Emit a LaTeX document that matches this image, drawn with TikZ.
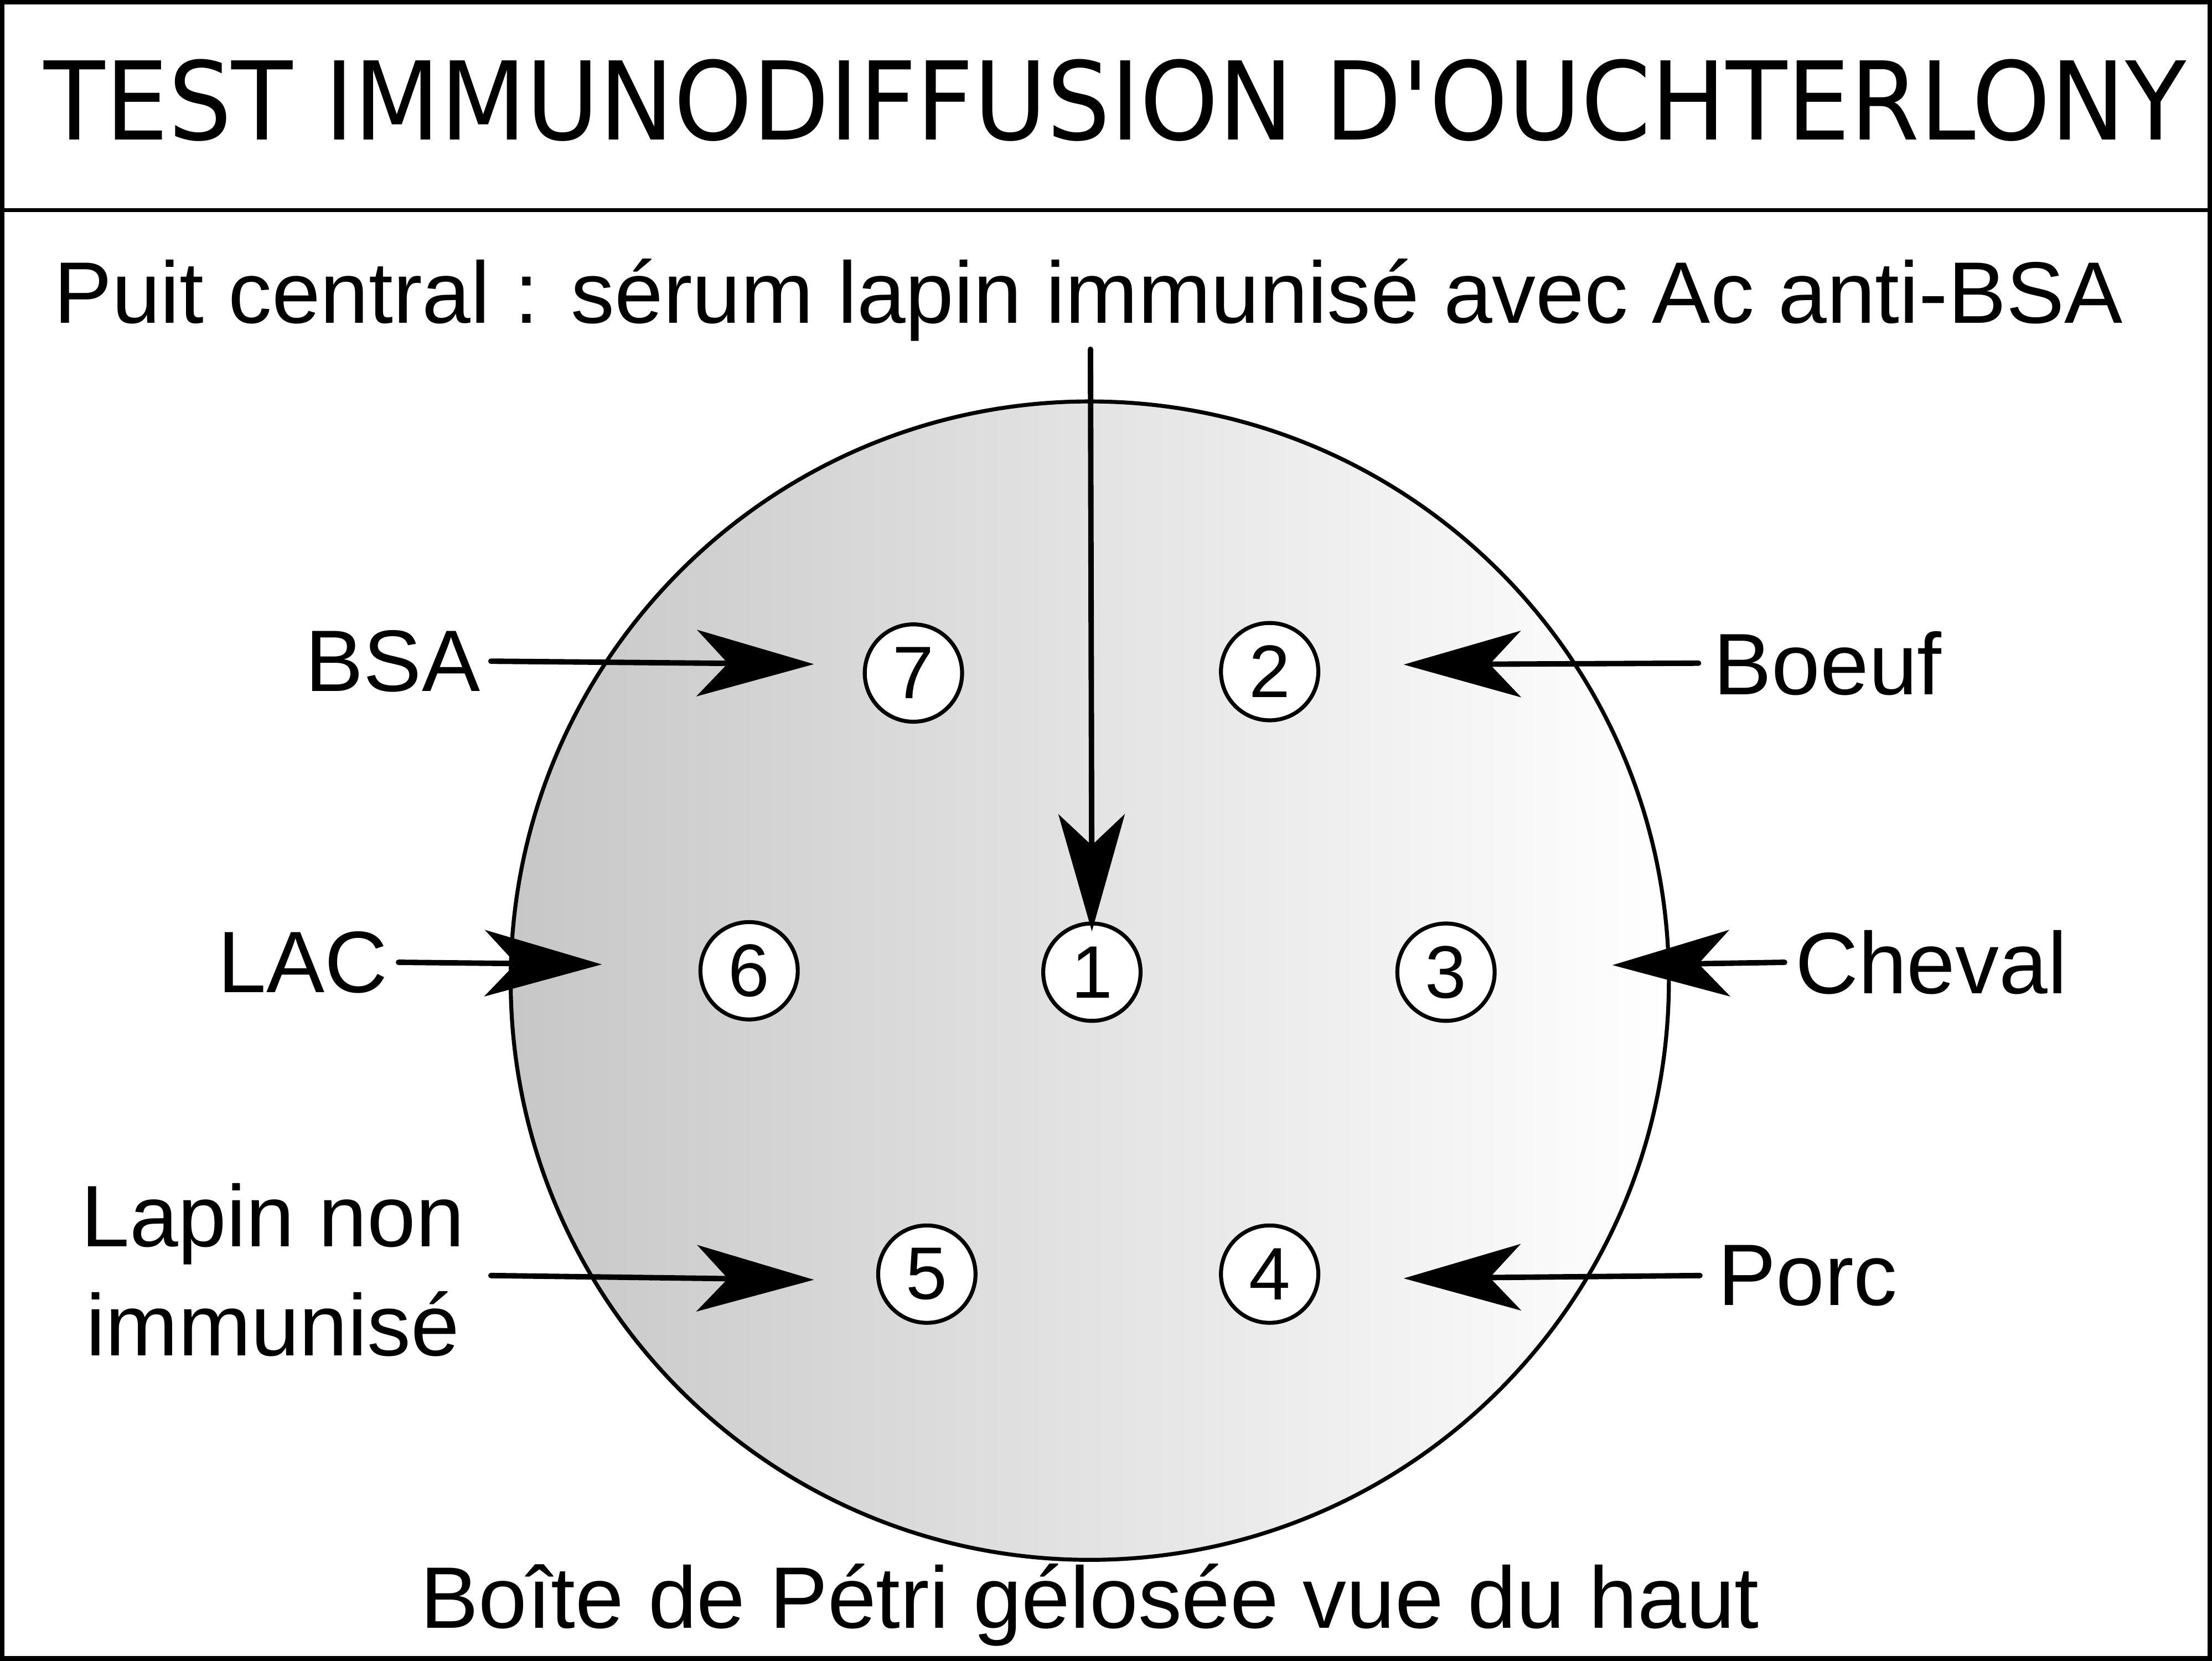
\documentclass[tikz,border=0pt]{standalone}
\usepackage{fontspec}
\setmainfont{Liberation Sans}
\newfontfamily\titlefont[FakeStretch=0.92]{DejaVu Sans}
\usepackage{tikz}
\usetikzlibrary{arrows.meta,positioning}

\begin{document}
\begin{tikzpicture}[x=0.1mm, y=-0.1mm,
    border/.style={draw, line width=0.9pt},
    sidetext/.style={font=\fontsize{17.6}{22}\selectfont, inner sep=0.7mm, align=center},
    well/.style={circle, draw, line width=0.8pt, fill=white, minimum size=6.9mm, inner sep=0pt, font=\fontsize{15}{18}\selectfont},
    arrow/.style={line width=1.1pt, line cap=round, -{Stealth[length=8.3mm, width=4.7mm, inset=2.2mm]}}
]
\useasboundingbox (0,0) rectangle (1568,1177);

% Frame and title
\draw[border] (1.6,1.6) rectangle (1566.4,1175.4);
\draw[line width=0.8pt] (0,149) -- (1568,149);
\node[font=\titlefont\fontsize{21.9}{26}\selectfont, inner sep=0pt] (title) at (790.5,71) {TEST IMMUNODIFFUSION D'OUCHTERLONY};
\node[sidetext, anchor=base, inner sep=0.5mm] (sub) at (771.5,229) {Puit central : sérum lapin immunisé avec Ac anti-BSA};

% Petri dish
\node[circle, draw, line width=0.8pt, minimum size=82.1mm, inner sep=0pt,
      left color=black!22, right color=white] (dish) at (772.5,695) {};
\node[sidetext, anchor=base] (petri) at (772.5,1154) {Boîte de Pétri gélosée vue du haut};

% Wells
\node[well] (w7) at (647.5,477) {7};
\node[well] (w2) at (900,476) {2};
\node[well] (w6) at (531,688) {6};
\node[well] (w1) at (774,689) {1};
\node[well] (w3) at (1025,689) {3};
\node[well] (w5) at (657,903) {5};
\node[well] (w4) at (900,903) {4};

% Side labels
\node[sidetext, anchor=east] (bsa) at (348,468.6) {BSA};
\node[sidetext, anchor=west, inner sep=1mm] (boeuf) at (1204,470) {Boeuf};
\node[sidetext, anchor=east] (lac) at (282.5,682) {LAC};
\node[sidetext, anchor=west] (cheval) at (1265,682) {Cheval};
\node[sidetext, anchor=east, inner xsep=1.8mm] (lapin) at (348,900) {Lapin non\\immunisé};
\node[sidetext, anchor=west, inner sep=1.2mm] (porc) at (1205,904) {Porc};

% Arrow tips
\coordinate (tip7) at (577,470.7);
\coordinate (tip2) at (995,471);
\coordinate (tip6) at (426.6,683.5);
\coordinate (tip3) at (1143,684);
\coordinate (tip5) at (577,907);
\coordinate (tip4) at (995,906);

% Arrows
\draw[arrow] (bsa.east) -- (tip7);
\draw[arrow] (boeuf.west) -- (tip2);
\draw[arrow] (lac.east) -- (tip6);
\draw[arrow] (cheval.west) -- (tip3);
\draw[arrow] ([yshift=-0.4mm]lapin.east) -- (tip5);
\draw[arrow] (porc.west) -- (tip4);
\draw[arrow] ([xshift=0.15mm]sub.south) -- ([yshift=-0.7mm]w1.north);

\end{tikzpicture}
\end{document}
